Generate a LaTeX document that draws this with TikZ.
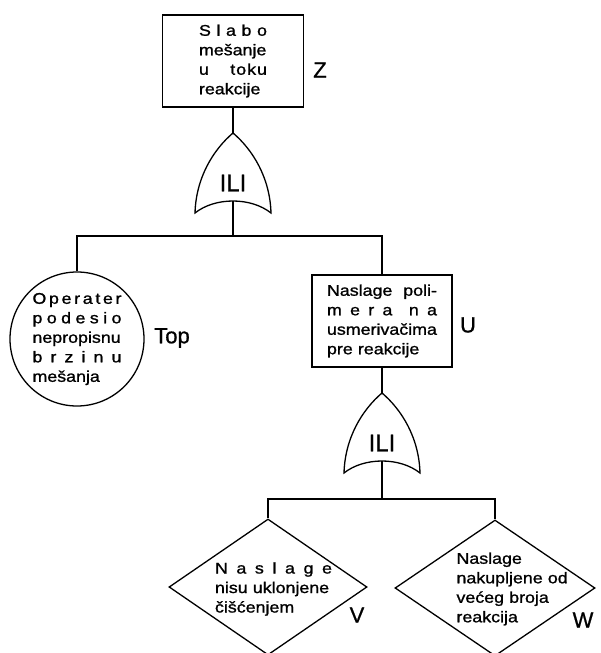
\documentclass[tikz,border=0pt]{standalone}
\usepackage{fontspec}
\setmainfont[FakeBold=0.8]{Liberation Sans}
\newfontfamily\widesans[FakeStretch=1.15,FakeBold=1.1]{Liberation Sans}
\usetikzlibrary{shapes.geometric}

% one text line stretched to the full width of its block
\newcommand\spreadln[1]{\leavevmode\hbox to\linewidth{#1}}

\tikzset{
  ln/.style={line width=1.3pt},
  event/.style={ln, draw, inner sep=0pt, align=left,
    font=\widesans\fontsize{15.5}{19.5}\selectfont},
  box/.style={event, rectangle, minimum width=140pt, minimum height=92pt},
  basic/.style={event, circle, minimum size=134pt},
  undev/.style={ln, draw, diamond, inner sep=0pt, minimum width=198pt, minimum height=136pt},
  evtext/.style={inner sep=0pt, align=left,
    font=\widesans\fontsize{15.5}{19.5}\selectfont},
  tag/.style={inner sep=0pt, font=\fontsize{22}{26}\selectfont},
  gatetext/.style={inner sep=0pt, font=\fontsize{24}{28}\selectfont},
}

% OR gate with its apex at (#2,#3)
\newcommand\orgate[4]{%
  \begin{scope}[shift={(#2,#3)}]
    \draw[ln] (-38,80) .. controls (-37,45) and (-20,17) .. (0,0)
      .. controls (20,17) and (37,45) .. (38,80)
      .. controls (18,64) and (-18,64) .. cycle;
    \coordinate (#1-top) at (0,0);
    \coordinate (#1-out) at (0,68);
    \node[gatetext] (#1) at (0,50) {#4};
  \end{scope}}

\begin{document}
\begin{tikzpicture}[x=1pt, y=-1pt]
\useasboundingbox (0,0) rectangle (600,653);

% top event
\node[box, minimum width=141pt, text width=68pt] (z) at (233,61) {%
  \spreadln{S\hfill l\hfill a\hfill b\hfill o}\\
  mešanje\\
  \spreadln{u\hfill t\kern1pt o\kern1pt k\kern1pt u}\\
  reakcije};
\node[tag] (zl) at (320,70) {Z};

\orgate{g1}{233}{133}{ILI}

% left branch: basic event
\node[basic, text width=89pt] (op) at (77,339) {%
  \spreadln{O\hfill p\hfill e\hfill r\hfill a\hfill t\hfill e\hfill r}\\
  \spreadln{p\hfill o\hfill d\hfill e\hfill s\hfill i\hfill o}\\
  \spreadln{nepropisnu}\\
  \spreadln{b\hfill r\hfill z\hfill i\hfill n\hfill u}\\
  mešanja};
\node[tag] (opl) at (172,338) {Top};

% right branch: intermediate event
\node[box, text width=110pt] (u) at (382,321) {%
  \spreadln{Naslage\hfill poli-}\\
  \spreadln{m\hfill e\hfill r\hfill a\hfill\hfill n\hfill a}\\
  usmerivačima\\
  pre reakcije};
\node[tag] (ul) at (468,325) {U};

\orgate{g2}{382}{393}{ILI}

% undeveloped events
\node[undev] (v) at (268,587) {};
\node[evtext, text width=117pt] (vt) at (273.5,589) {%
  \spreadln{N\hfill a\hfill s\hfill l\hfill a\hfill g\hfill e}\\
  nisu uklonjene\\
  čišćenjem};
\node[tag] (vl) at (357,615) {V};

\node[undev, minimum width=200pt] (w) at (495,588) {};
\node[evtext, text width=117pt] (wt) at (515,589) {%
  Naslage\\
  nakupljene od\\
  većeg broja\\
  reakcija};
\node[tag] (wl) at (583,620) {W};

% connectors
\coordinate (j1) at (233,236);
\coordinate (j2) at (382,499);
\draw[ln] (z.south) -- (g1-top);
\draw[ln] (g1-out) -- (j1);
\draw[ln] (op.north) |- (j1) -| (u.north);
\draw[ln] (u.south) -- (g2-top);
\draw[ln] (g2-out) -- (j2);
\draw[ln] (v.north) |- (j2) -| (w.north);
\end{tikzpicture}
\end{document}
